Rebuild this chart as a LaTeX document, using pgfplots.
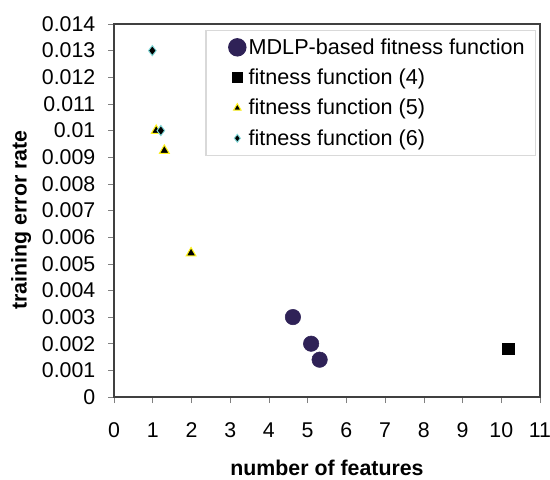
\documentclass[border=0pt]{standalone}
\usepackage{pgfplots}
\pgfplotsset{compat=1.18}
\usepackage{fontspec}
\setmainfont{Liberation Sans}
\definecolor{mdlp}{HTML}{2F2257}
\definecolor{diam}{HTML}{7FD8D8}
\begin{document}
\begin{tikzpicture}
\path[use as bounding box] (0pt,0pt) rectangle (412.5pt,359.25pt);
\begin{axis}[
  at={(85.5pt,61.5pt)}, anchor=south west,
  scale only axis, width=319.5pt, height=279.75pt,
  xmin=0, xmax=11, ymin=0, ymax=0.014,
  xtick={0,1,...,11},
  ytick={0,0.001,...,0.0141},
  scaled y ticks=false,
  /pgf/number format/assume math mode=true,
  yticklabel style={/pgf/number format/fixed, /pgf/number format/precision=3, xshift=-6pt},
  xticklabel style={yshift=-11pt},
  tick label style={font=\fontsize{16}{19}\selectfont},
  tick align=outside, tick style={gray, thin}, major tick length=4.5pt,
  xtick pos=bottom, ytick pos=left,
  axis line style={black!75, line width=1.1pt},
  xlabel={\textbf{number of features}},
  ylabel={\textbf{training error rate}},
  label style={font=\fontsize{16}{19}\selectfont},
  xlabel style={at={(axis description cs:0.5,0)}, anchor=center, yshift=-53.25pt},
  ylabel style={at={(axis description cs:-0.218,0.4745)}, anchor=center},
  clip=false,
  legend style={at={(0.9906,0.984)}, anchor=north east, draw=black!15, line width=0.8pt,
    font=\fontsize{16.2}{19}\selectfont, row sep=5.5pt, inner xsep=6pt, inner ysep=4pt},
  legend cell align=left,
  legend image code/.code={\path (-0.22cm,0cm); \draw[mark repeat=2,mark phase=2,#1] plot coordinates {(0cm,0cm) (0.38cm,0cm) (0.6cm,0cm)};},
]
\addplot[only marks, mark=*, mark size=5.8pt, mark options={fill=mdlp, draw=mdlp}, legend image post style={mark size=6.5pt}] coordinates {(4.62,0.0030) (5.09,0.0020) (5.31,0.0014)};
\addlegendentry{MDLP-based fitness function}
\addplot[only marks, mark=square*, mark size=4.2pt, mark options={fill=black, draw=black}, legend image post style={mark size=3.5pt}] coordinates {(10.18,0.0018)};
\addlegendentry{fitness function (4)}
\addplot[only marks, mark=triangle*, mark size=4.2pt, mark options={fill=black, draw=yellow!90!white, line width=0.8pt}, legend image post style={mark size=3.2pt}] coordinates {(1.09,0.0100) (1.30,0.00925) (1.99,0.0054)};
\addlegendentry{fitness function (5)}
\addplot[only marks, mark=diamond*, mark size=3.8pt, mark options={fill=black, draw=diam, line width=0.7pt}, legend image post style={mark size=3pt}] coordinates {(0.99,0.0130) (1.21,0.0100)};
\addlegendentry{fitness function (6)}
\end{axis}
\end{tikzpicture}
\end{document}
